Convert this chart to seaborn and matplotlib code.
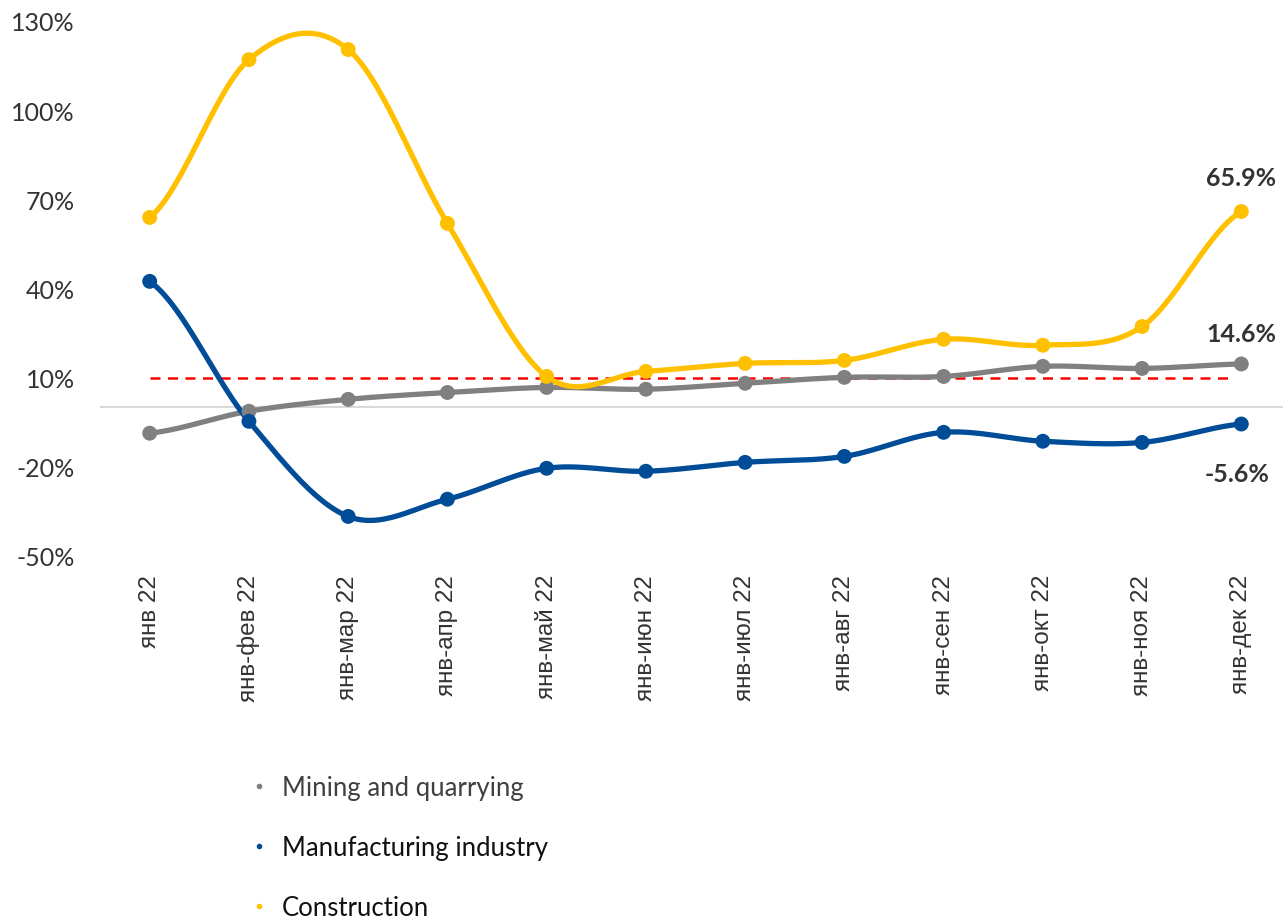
import numpy as np
import pandas as pd
import matplotlib
matplotlib.use("Agg")
import matplotlib.pyplot as plt
import seaborn as sns
from matplotlib.lines import Line2D

# Periods (cumulative from January 2022)
periods = ["янв 22", "янв-фев 22", "янв-мар 22", "янв-апр 22", "янв-май 22", "янв-июн 22",
           "янв-июл 22", "янв-авг 22", "янв-сен 22", "янв-окт 22", "янв-ноя 22", "янв-дек 22"]

# Growth rates, %
mining = [-8.7, -1.3, 2.7, 5.0, 6.7, 6.1, 8.1, 10.1, 10.4, 13.8, 13.1, 14.6]
manufacturing = [42.4, -4.7, -36.7, -30.9, -20.5, -21.5, -18.5, -16.5, -8.4, -11.4, -11.8, -5.6]
construction = [63.9, 117.0, 120.4, 61.9, 10.4, 12.1, 14.8, 15.8, 22.9, 20.9, 27.2, 65.9]
reference_level = 10

series = {
    "Mining and quarrying": mining,
    "Manufacturing industry": manufacturing,
    "Construction": construction,
}
colors = {
    "Mining and quarrying": "#808080",
    "Manufacturing industry": "#004C97",
    "Construction": "#FFC000",
}
label_colors = {
    "Mining and quarrying": "#404040",
    "Manufacturing industry": "#111111",
    "Construction": "#111111",
}


def smooth(y, n=30):
    # Catmull-Rom curve through the points, like Excel's smoothed line
    y = np.asarray(y, dtype=float)
    p = np.concatenate([[y[0]], y, [y[-1]]])
    xs, ys = [], []
    for i in range(len(y) - 1):
        p0, p1, p2, p3 = p[i], p[i + 1], p[i + 2], p[i + 3]
        m1 = (p2 - p0) / 2
        m2 = (p3 - p1) / 2
        t = np.linspace(0, 1, n, endpoint=False)
        h00 = 2 * t**3 - 3 * t**2 + 1
        h10 = t**3 - 2 * t**2 + t
        h01 = -2 * t**3 + 3 * t**2
        h11 = t**3 - t**2
        xs.append(i + t)
        ys.append(h00 * p1 + h10 * m1 + h01 * p2 + h11 * m2)
    xs.append([len(y) - 1])
    ys.append([y[-1]])
    return np.concatenate(xs), np.concatenate(ys)


points = pd.DataFrame([
    {"series": name, "x": i, "value": v}
    for name, vals in series.items() for i, v in enumerate(vals)
])
curves = []
for name, vals in series.items():
    sx, sy = smooth(vals)
    curves.append(pd.DataFrame({"series": name, "x": sx, "value": sy}))
curves = pd.concat(curves, ignore_index=True)

sns.set_style("white")
plt.rcParams["font.family"] = ["Lato", "DejaVu Sans"]

fig = plt.figure(figsize=(12.83, 9.2), dpi=100)
ax = fig.add_axes([0.078, 0.3946, 0.922, 0.5815])

ax.axhline(0, color="#D9D9D9", lw=1.5, zorder=1)
ax.hlines(reference_level, 0, len(periods) - 1.07, colors="#FF0000", lw=1.8,
          linestyles=(0, (4, 3)), zorder=2)

sns.lineplot(data=curves, x="x", y="value", hue="series", palette=colors,
             lw=3.8, legend=False, ax=ax, sort=False, estimator=None, zorder=3)
sns.scatterplot(data=points, x="x", y="value", hue="series", palette=colors,
                s=115, linewidth=0, legend=False, ax=ax, zorder=4)

# End-of-series labels
last = len(periods) - 1
lbl = dict(textcoords="offset points", ha="center", fontsize=18,
           fontweight="bold", color="#333333")
ax.annotate(f"{construction[-1]:.1f}%", (last, construction[-1]), xytext=(0, 16),
            va="bottom", **lbl)
ax.annotate(f"{mining[-1]:.1f}%", (last, mining[-1]), xytext=(0, 14),
            va="bottom", **lbl)
ax.annotate(f"{manufacturing[-1]:.1f}%", (last, manufacturing[-1]), xytext=(-3, -27),
            va="top", **lbl)

ax.set_xlim(-0.5, 11.42)
ax.set_ylim(-50, 130)
ax.set_yticks(range(-50, 131, 30))
ax.set_yticklabels([f"{v}%" for v in range(-50, 131, 30)], fontsize=18, color="#333333")
ax.set_xticks(range(len(periods)))
ax.set_xticklabels(periods, rotation=90, fontsize=17.5, color="#333333",
                   family=["Liberation Sans", "DejaVu Sans"], va="top")
ax.tick_params(axis="x", length=0, pad=13)
ax.tick_params(axis="y", length=0, pad=18)
ax.set_xlabel("")
ax.set_ylabel("")
for s in ax.spines.values():
    s.set_visible(False)

handles = [Line2D([], [], marker="o", ls="none", markersize=3, color=colors[n]) for n in series]
leg = fig.legend(handles, list(series.keys()), loc="upper left",
                 bbox_to_anchor=(0.1782, 0.1815), frameon=False, fontsize=18.5,
                 labelspacing=1.35, handlelength=0.6, handletextpad=0.56)
for t, n in zip(leg.get_texts(), series):
    t.set_color(label_colors[n])

fig.savefig("out.png", dpi=100)
